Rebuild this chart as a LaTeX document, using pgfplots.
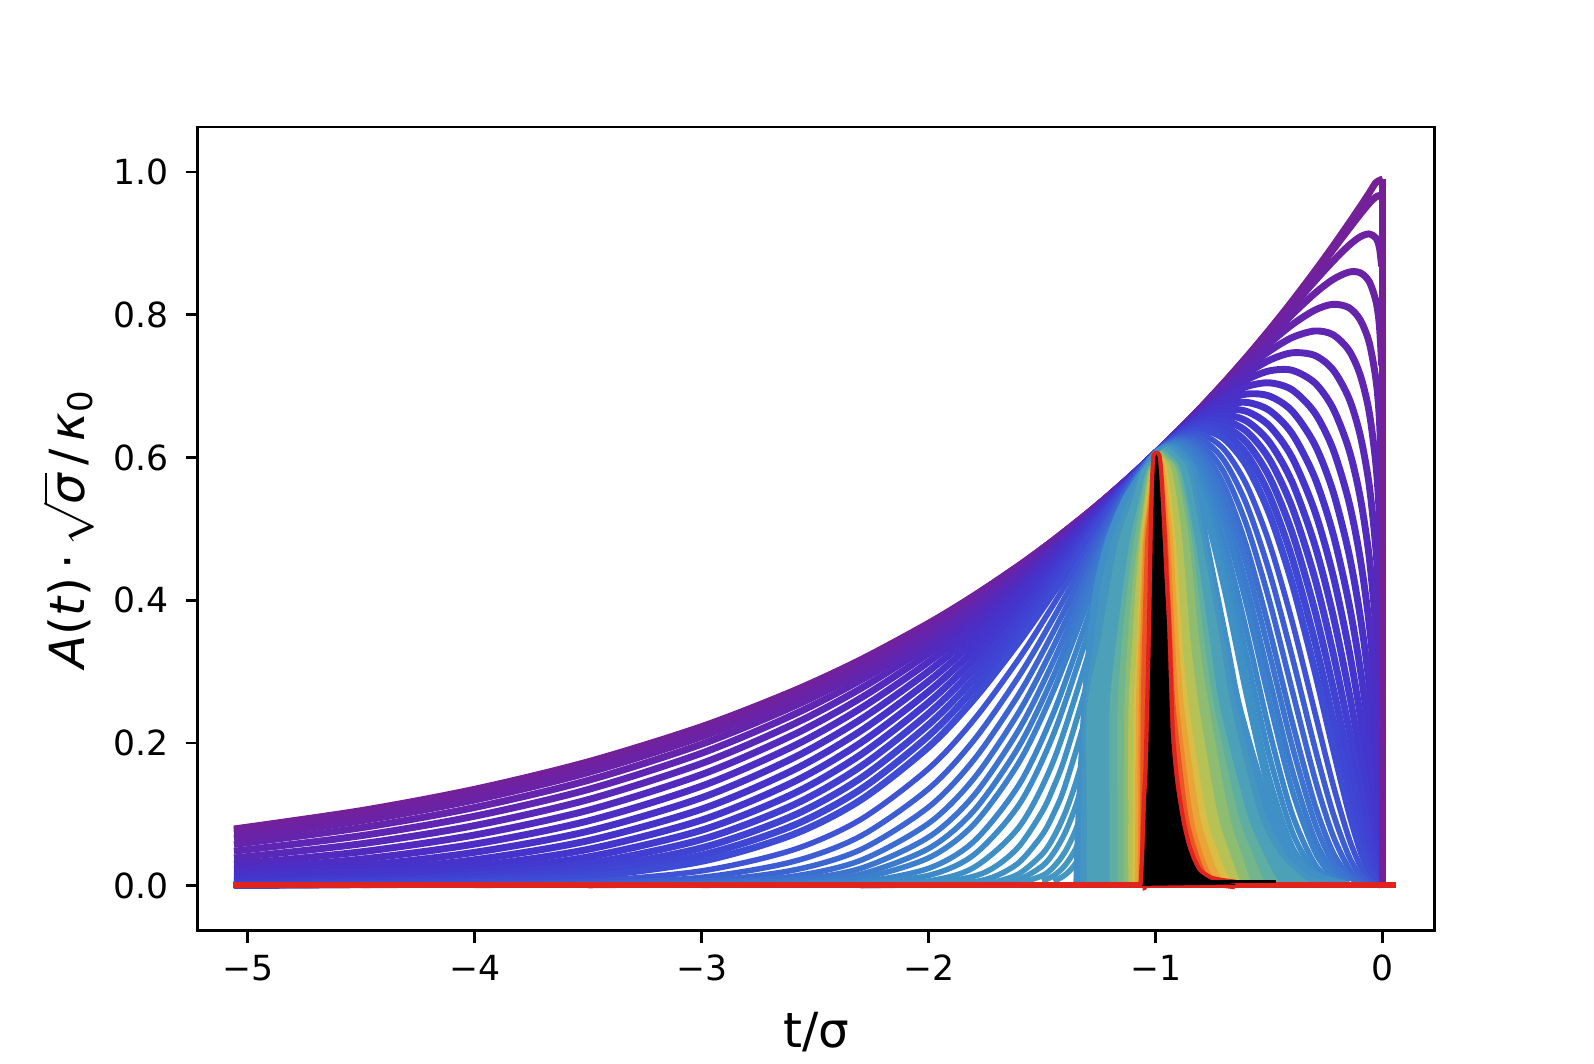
\documentclass[border=0pt]{standalone}
\usepackage{fontspec}
\setmainfont{DejaVu Sans}
\usepackage{pgfplots}
\pgfplotsset{compat=1.18}
\definecolor{n0}{RGB}{118,32,150}
\definecolor{n1}{RGB}{114,33,155}
\definecolor{n2}{RGB}{110,33,160}
\definecolor{n3}{RGB}{106,34,166}
\definecolor{n4}{RGB}{100,36,172}
\definecolor{n5}{RGB}{94,38,178}
\definecolor{n6}{RGB}{88,40,184}
\definecolor{n7}{RGB}{82,42,190}
\definecolor{n8}{RGB}{77,45,195}
\definecolor{n9}{RGB}{73,48,199}
\definecolor{n10}{RGB}{70,51,202}
\definecolor{n11}{RGB}{68,54,205}
\definecolor{n12}{RGB}{66,58,207}
\definecolor{n13}{RGB}{65,62,209}
\definecolor{n14}{RGB}{64,66,210}
\definecolor{n15}{RGB}{63,70,211}
\definecolor{n16}{RGB}{62,75,212}
\definecolor{n18}{RGB}{62,84,212}
\definecolor{n20}{RGB}{61,93,211}
\definecolor{n22}{RGB}{61,101,210}
\definecolor{n24}{RGB}{60,109,209}
\definecolor{n26}{RGB}{60,116,207}
\definecolor{n28}{RGB}{60,122,205}
\definecolor{n30}{RGB}{60,127,204}
\definecolor{n33}{RGB}{60,133,202}
\definecolor{n36}{RGB}{61,138,200}
\definecolor{n40}{RGB}{62,143,198}
\definecolor{nA}{RGB}{63,145,197}
\definecolor{nB}{RGB}{65,148,195}
\definecolor{nC}{RGB}{67,151,193}
\definecolor{cT0}{RGB}{64,143,199}
\definecolor{cT01}{RGB}{68,150,193}
\definecolor{cT1}{RGB}{76,160,184}
\definecolor{cT2}{RGB}{95,174,162}
\definecolor{cTG}{RGB}{115,182,140}
\definecolor{cG}{RGB}{142,188,113}
\definecolor{cYG}{RGB}{182,193,86}
\definecolor{cY}{RGB}{218,189,68}
\definecolor{cYO}{RGB}{234,165,55}
\definecolor{cO}{RGB}{240,135,45}
\definecolor{cOR}{RGB}{235,85,36}
\definecolor{rr}{RGB}{225,35,30}
\pgfplotsset{
  thk/.style={line width=2pt, line join=round, smooth, tension=0.5},
  thn/.style={line width=1.6pt, line join=round, smooth, tension=0.5},
  fl/.style={fill=#1, draw=#1, line width=0.4pt, smooth, tension=0.45},
}
\begin{document}
\begin{tikzpicture}
\useasboundingbox (-57.2pt,-38.3pt) rectangle (403.6pt,269.1pt);
\begin{axis}[
  at={(0,0)}, anchor=south west,
  scale only axis, width=357.5pt, height=232.4pt,
  xmin=-5.219, xmax=0.228, ymin=-0.063, ymax=1.063,
  xtick={-5,-4,-3,-2,-1,0}, xticklabels={−5,−4,−3,−2,−1,0},
  ytick={0,0.2,0.4,0.6,0.8,1.0}, yticklabels={0.0,0.2,0.4,0.6,0.8,1.0},
  tick align=outside, tick pos=left,
  major tick length=3.5pt,
  every tick/.style={black, line width=0.8pt},
  axis line style={line width=0.8pt},
  ticklabel style={font=\fontsize{10}{12}\selectfont},
  yticklabel style={xshift=-1.5pt},
  xlabel={t/σ},
  xlabel style={font=\fontsize{14}{17}\selectfont, at={(axis description cs:0.5,-0.1446)}, anchor=base, inner sep=0pt},
  ylabel={\itshape A\upshape(\itshape t\/\upshape)\,·\,$\sqrt{\mbox{\itshape σ}}$\,/\,\itshape κ\upshape\textsubscript{0}},
  ylabel style={font=\fontsize{14}{17}\selectfont, at={(axis description cs:-0.083,0.5)}, anchor=south, inner sep=0pt},
]
% ---- purple / blue family ----
\addplot[thk, color=n0] coordinates {(-5.06,0.0797) (-4.5,0.1054) (-4,0.1353) (-3.5,0.1738) (-3,0.2231) (-2.6,0.2725) (-2.3,0.3166) (-2,0.3679) (-1.8,0.4066) (-1.6,0.4493) (-1.45,0.4843) (-1.3,0.5220) (-1.2,0.5488) (-1.1,0.5769) (-1,0.6065) (-0.9,0.6376) (-0.8,0.6703) (-0.7,0.7047) (-0.6,0.7408) (-0.5,0.7788) (-0.4,0.8187) (-0.3,0.8607) (-0.22,0.8958) (-0.15,0.9277) (-0.1,0.9512) (-0.06,0.9704) (-0.03,0.9851) (0,0.99)};
\addplot[thk, color=n1] coordinates {(-5.06,0.0781) (-4.5,0.1037) (-4,0.1336) (-3.5,0.1720) (-3,0.2215) (-2.6,0.2711) (-2.3,0.3154) (-2,0.3670) (-1.8,0.4059) (-1.6,0.4488) (-1.45,0.4841) (-1.3,0.5218) (-1.2,0.5487) (-1.1,0.5769) (-1,0.6065) (-0.9,0.6376) (-0.8,0.6702) (-0.7,0.7044) (-0.6,0.7401) (-0.5,0.7776) (-0.4,0.8166) (-0.3,0.8572) (-0.22,0.8905) (-0.15,0.9199) (-0.1,0.9404) (-0.06,0.9558) (-0.03,0.9650) (-0.015,0.9668) (-0.005,0.9633)};
\addplot[thk, color=n2] coordinates {(-5.06,0.0736) (-4.5,0.0988) (-4,0.1284) (-3.5,0.1669) (-3,0.2167) (-2.6,0.2669) (-2.3,0.3119) (-2,0.3643) (-1.8,0.4038) (-1.6,0.4474) (-1.45,0.4831) (-1.3,0.5214) (-1.2,0.5485) (-1.1,0.5768) (-1,0.6065) (-0.9,0.6375) (-0.8,0.6698) (-0.7,0.7034) (-0.6,0.7381) (-0.5,0.7740) (-0.4,0.8104) (-0.3,0.8468) (-0.22,0.8747) (-0.15,0.8968) (-0.1,0.9090) (-0.06,0.9132) (-0.03,0.9074) (-0.015,0.8943) (-0.005,0.8677)};
\addplot[thk, color=n3] coordinates {(-5.06,0.0667) (-4.5,0.0911) (-4,0.1203) (-3.5,0.1587) (-3,0.2089) (-2.6,0.2600) (-2.3,0.3060) (-2,0.3597) (-1.8,0.4003) (-1.6,0.4451) (-1.45,0.4816) (-1.3,0.5206) (-1.2,0.5481) (-1.1,0.5767) (-1,0.6065) (-0.9,0.6373) (-0.8,0.6692) (-0.7,0.7018) (-0.6,0.7348) (-0.5,0.7679) (-0.4,0.8000) (-0.3,0.8297) (-0.22,0.8492) (-0.15,0.8596) (-0.1,0.8588) (-0.06,0.8465) (-0.03,0.8188) (-0.015,0.7851) (-0.005,0.7289)};
\addplot[thk, color=n4] coordinates {(-5.06,0.0581) (-4.5,0.0814) (-4,0.1098) (-3.5,0.1478) (-3,0.1985) (-2.6,0.2507) (-2.3,0.2980) (-2,0.3535) (-1.8,0.3955) (-1.6,0.4418) (-1.45,0.4794) (-1.3,0.5195) (-1.2,0.5475) (-1.1,0.5766) (-1,0.6065) (-0.9,0.6371) (-0.8,0.6683) (-0.7,0.6995) (-0.6,0.7302) (-0.5,0.7596) (-0.4,0.7859) (-0.3,0.8063) (-0.22,0.8146) (-0.15,0.8100) (-0.1,0.7931) (-0.06,0.7613) (-0.03,0.7091) (-0.015,0.6543) (-0.005,0.5711)};
\addplot[thk, color=n5] coordinates {(-5.06,0.0486) (-4.5,0.0703) (-4,0.0976) (-3.5,0.1350) (-3,0.1859) (-2.6,0.2392) (-2.3,0.2880) (-2,0.3457) (-1.8,0.3894) (-1.6,0.4377) (-1.45,0.4767) (-1.3,0.5181) (-1.2,0.5468) (-1.1,0.5764) (-1,0.6065) (-0.9,0.6369) (-0.8,0.6672) (-0.7,0.6966) (-0.6,0.7244) (-0.5,0.7489) (-0.4,0.7679) (-0.3,0.7772) (-0.22,0.7721) (-0.15,0.7505) (-0.1,0.7161) (-0.06,0.6640) (-0.03,0.5894) (-0.015,0.5176) (-0.005,0.4173)};
\addplot[thk, color=n6] coordinates {(-5.06,0.0391) (-4.5,0.0589) (-4,0.0845) (-3.5,0.1208) (-3,0.1715) (-2.6,0.2259) (-2.3,0.2763) (-2,0.3364) (-1.8,0.3822) (-1.6,0.4326) (-1.45,0.4734) (-1.3,0.5163) (-1.2,0.5460) (-1.1,0.5762) (-1,0.6065) (-0.9,0.6366) (-0.8,0.6658) (-0.7,0.6931) (-0.6,0.7173) (-0.5,0.7362) (-0.4,0.7466) (-0.3,0.7430) (-0.22,0.7232) (-0.15,0.6837) (-0.1,0.6319) (-0.06,0.5620) (-0.03,0.4702) (-0.015,0.3887) (-0.005,0.2844)};
\addplot[thk, color=n7] coordinates {(-5.06,0.0303) (-4.5,0.0477) (-4,0.0713) (-3.5,0.1059) (-3,0.1560) (-2.6,0.2110) (-2.3,0.2630) (-2,0.3257) (-1.8,0.3737) (-1.6,0.4267) (-1.45,0.4695) (-1.3,0.5143) (-1.2,0.5450) (-1.1,0.5759) (-1,0.6065) (-0.9,0.6363) (-0.8,0.6642) (-0.7,0.6890) (-0.6,0.7089) (-0.5,0.7213) (-0.4,0.7222) (-0.3,0.7047) (-0.22,0.6694) (-0.15,0.6123) (-0.1,0.5452) (-0.06,0.4614) (-0.03,0.3600) (-0.015,0.2771) (-0.005,0.1808)};
\addplot[thk, color=n8] coordinates {(-5.06,0.0225) (-4.5,0.0375) (-4,0.0586) (-3.5,0.0910) (-3,0.1398) (-2.6,0.1951) (-2.3,0.2486) (-2,0.3138) (-1.8,0.3642) (-1.6,0.4200) (-1.45,0.4650) (-1.3,0.5120) (-1.2,0.5438) (-1.1,0.5756) (-1,0.6065) (-0.9,0.6359) (-0.8,0.6623) (-0.7,0.6843) (-0.6,0.6994) (-0.5,0.7046) (-0.4,0.6949) (-0.3,0.6628) (-0.22,0.6123) (-0.15,0.5391) (-0.1,0.4597) (-0.06,0.3674) (-0.03,0.2645) (-0.015,0.1875) (-0.005,0.1072)};
\addplot[thk, color=n9] coordinates {(-5.06,0.0161) (-4.5,0.0285) (-4,0.0470) (-3.5,0.0766) (-3,0.1235) (-2.6,0.1786) (-2.3,0.2331) (-2,0.3008) (-1.8,0.3537) (-1.6,0.4126) (-1.45,0.4601) (-1.3,0.5093) (-1.2,0.5425) (-1.1,0.5752) (-1,0.6065) (-0.9,0.6354) (-0.8,0.6602) (-0.7,0.6790) (-0.6,0.6889) (-0.5,0.6861) (-0.4,0.6653) (-0.3,0.6184) (-0.22,0.5534) (-0.15,0.4667) (-0.1,0.3790) (-0.06,0.2839) (-0.03,0.1865) (-0.015,0.1204) (-0.005,0.0593)};
\addplot[thk, color=n10] coordinates {(-5.06,0.0110) (-4.5,0.0209) (-4,0.0366) (-3.5,0.0633) (-3,0.1075) (-2.6,0.1617) (-2.3,0.2169) (-2,0.2869) (-1.8,0.3424) (-1.6,0.4044) (-1.45,0.4545) (-1.3,0.5064) (-1.2,0.5410) (-1.1,0.5748) (-1,0.6065) (-0.9,0.6349) (-0.8,0.6579) (-0.7,0.6731) (-0.6,0.6772) (-0.5,0.6660) (-0.4,0.6337) (-0.3,0.5722) (-0.22,0.4943) (-0.15,0.3973) (-0.1,0.3054) (-0.06,0.2128) (-0.03,0.1262) (-0.015,0.0734) (-0.005,0.0306)};
\addplot[thk, color=n11] coordinates {(-5.06,0.0073) (-4.5,0.0149) (-4,0.0278) (-3.5,0.0512) (-3,0.0922) (-2.6,0.1449) (-2.3,0.2003) (-2,0.2723) (-1.8,0.3302) (-1.6,0.3956) (-1.45,0.4485) (-1.3,0.5031) (-1.2,0.5394) (-1.1,0.5743) (-1,0.6065) (-0.9,0.6343) (-0.8,0.6553) (-0.7,0.6667) (-0.6,0.6646) (-0.5,0.6445) (-0.4,0.6005) (-0.3,0.5252) (-0.22,0.4363) (-0.15,0.3324) (-0.1,0.2406) (-0.06,0.1547) (-0.03,0.0820) (-0.015,0.0425) (-0.005,0.0147)};
\addplot[thk, color=n12] coordinates {(-5.06,0.0046) (-4.5,0.0103) (-4,0.0206) (-3.5,0.0406) (-3,0.0780) (-2.6,0.1285) (-2.3,0.1837) (-2,0.2572) (-1.8,0.3174) (-1.6,0.3861) (-1.45,0.4420) (-1.3,0.4996) (-1.2,0.5376) (-1.1,0.5738) (-1,0.6065) (-0.9,0.6336) (-0.8,0.6525) (-0.7,0.6596) (-0.6,0.6510) (-0.5,0.6217) (-0.4,0.5661) (-0.3,0.4782) (-0.22,0.3805) (-0.15,0.2735) (-0.1,0.1852) (-0.06,0.1091) (-0.03,0.0511) (-0.015,0.0234) (-0.005,0.0066)};
\addplot[thk, color=n13] coordinates {(-5.06,0.0028) (-4.5,0.0069) (-4,0.0149) (-3.5,0.0315) (-3,0.0650) (-2.6,0.1128) (-2.3,0.1671) (-2,0.2417) (-1.8,0.3041) (-1.6,0.3761) (-1.45,0.4351) (-1.3,0.4958) (-1.2,0.5357) (-1.1,0.5733) (-1,0.6065) (-0.9,0.6330) (-0.8,0.6494) (-0.7,0.6521) (-0.6,0.6365) (-0.5,0.5979) (-0.4,0.5310) (-0.3,0.4318) (-0.22,0.3279) (-0.15,0.2213) (-0.1,0.1395) (-0.06,0.0747) (-0.03,0.0306) (-0.015,0.0122) (-0.005,0.0028)};
\addplot[thk, color=n14] coordinates {(-5.06,0.0017) (-4.5,0.0044) (-4,0.0104) (-3.5,0.0240) (-3,0.0533) (-2.6,0.0980) (-2.3,0.1508) (-2,0.2260) (-1.8,0.2903) (-1.6,0.3655) (-1.45,0.4276) (-1.3,0.4918) (-1.2,0.5336) (-1.1,0.5727) (-1,0.6065) (-0.9,0.6322) (-0.8,0.6461) (-0.7,0.6440) (-0.6,0.6213) (-0.5,0.5731) (-0.4,0.4955) (-0.3,0.3867) (-0.22,0.2793) (-0.15,0.1760) (-0.1,0.1026) (-0.06,0.0496) (-0.03,0.0176) (-0.015,0.0060) (-0.005,0.0011)};
\addplot[thk, color=n15] coordinates {(-5.06,0.0009) (-4.5,0.0028) (-4,0.0071) (-3.5,0.0179) (-3,0.0432) (-2.6,0.0842) (-2.3,0.1352) (-2,0.2103) (-1.8,0.2762) (-1.6,0.3546) (-1.45,0.4198) (-1.3,0.4875) (-1.2,0.5314) (-1.1,0.5720) (-1,0.6065) (-0.9,0.6314) (-0.8,0.6426) (-0.7,0.6355) (-0.6,0.6053) (-0.5,0.5477) (-0.4,0.4601) (-0.3,0.3435) (-0.22,0.2350) (-0.15,0.1376) (-0.1,0.0738) (-0.06,0.0319) (-0.03,0.0097) (-0.015,0.0029) (-0.005,0.0004)};
\addplot[thk, color=n16] coordinates {(-5.06,0.0005) (-4.5,0.0017) (-4,0.0048) (-3.5,0.0131) (-3,0.0344) (-2.6,0.0716) (-2.3,0.1202) (-2,0.1947) (-1.8,0.2618) (-1.6,0.3432) (-1.45,0.4116) (-1.3,0.4829) (-1.2,0.5290) (-1.1,0.5714) (-1,0.6065) (-0.9,0.6306) (-0.8,0.6389) (-0.7,0.6266) (-0.6,0.5887) (-0.5,0.5218) (-0.4,0.4249) (-0.3,0.3027) (-0.22,0.1955) (-0.15,0.1058) (-0.1,0.0519) (-0.06,0.0200) (-0.03,0.0051) (-0.015,0.0012)};
\addplot[thn, color=n18] coordinates {(-4.5,0.0006) (-4,0.0020) (-3.5,0.0066) (-3,0.0210) (-2.6,0.0502) (-2.3,0.0929) (-2,0.1644) (-1.8,0.2330) (-1.6,0.3194) (-1.45,0.3942) (-1.3,0.4730) (-1.2,0.5239) (-1.1,0.5699) (-1,0.6065) (-0.9,0.6291) (-0.8,0.6326) (-0.7,0.6116) (-0.6,0.5615) (-0.5,0.4805) (-0.4,0.3713) (-0.3,0.2442) (-0.22,0.1430) (-0.15,0.0677) (-0.1,0.0285) (-0.06,0.0090) (-0.03,0.0018)};
\addplot[thn, color=n20] coordinates {(-4,0.0007) (-3.5,0.0031) (-3,0.0120) (-2.6,0.0338) (-2.3,0.0697) (-2,0.1361) (-1.8,0.2044) (-1.6,0.2949) (-1.45,0.3757) (-1.3,0.4622) (-1.2,0.5182) (-1.1,0.5682) (-1,0.6065) (-0.9,0.6277) (-0.8,0.6261) (-0.7,0.5962) (-0.6,0.5342) (-0.5,0.4405) (-0.4,0.3221) (-0.3,0.1946) (-0.22,0.1027) (-0.15,0.0423) (-0.1,0.0152) (-0.06,0.0039)};
\addplot[thn, color=n22] coordinates {(-3.5,0.0013) (-3,0.0065) (-2.6,0.0218) (-2.3,0.0507) (-2,0.1105) (-1.8,0.1770) (-1.6,0.2699) (-1.45,0.3562) (-1.3,0.4505) (-1.2,0.5120) (-1.1,0.5664) (-1,0.6065) (-0.9,0.6260) (-0.8,0.6189) (-0.7,0.5795) (-0.6,0.5054) (-0.5,0.4000) (-0.4,0.2750) (-0.3,0.1513) (-0.22,0.0712) (-0.15,0.0250) (-0.1,0.0075) (-0.06,0.0015)};
\addplot[thn, color=n24] coordinates {(-3.5,0.0005) (-3,0.0033) (-2.6,0.0134) (-2.3,0.0357) (-2,0.0877) (-1.8,0.1509) (-1.6,0.2449) (-1.45,0.3358) (-1.3,0.4380) (-1.2,0.5053) (-1.1,0.5645) (-1,0.6065) (-0.9,0.6241) (-0.8,0.6110) (-0.7,0.5617) (-0.6,0.4755) (-0.5,0.3597) (-0.4,0.2311) (-0.3,0.1147) (-0.22,0.0475) (-0.15,0.0141) (-0.1,0.0036)};
\addplot[thn, color=n26] coordinates {(-3,0.0016) (-2.6,0.0080) (-2.3,0.0245) (-2,0.0684) (-1.8,0.1271) (-1.6,0.2204) (-1.45,0.3152) (-1.3,0.4249) (-1.2,0.4981) (-1.1,0.5623) (-1,0.6065) (-0.9,0.6224) (-0.8,0.6040) (-0.7,0.5461) (-0.6,0.4499) (-0.5,0.3265) (-0.4,0.1973) (-0.3,0.0891) (-0.22,0.0329) (-0.15,0.0083)};
\addplot[thn, color=n28] coordinates {(-3,0.0007) (-2.6,0.0045) (-2.3,0.0163) (-2,0.0524) (-1.8,0.1057) (-1.6,0.1968) (-1.45,0.2944) (-1.3,0.4111) (-1.2,0.4905) (-1.1,0.5600) (-1,0.6065) (-0.9,0.6204) (-0.8,0.5957) (-0.7,0.5278) (-0.6,0.4210) (-0.5,0.2908) (-0.4,0.1631) (-0.3,0.0658) (-0.22,0.0212) (-0.15,0.0045)};
\addplot[thn, color=n30] coordinates {(-2.6,0.0025) (-2.3,0.0105) (-2,0.0393) (-1.8,0.0866) (-1.6,0.1742) (-1.45,0.2735) (-1.3,0.3969) (-1.2,0.4824) (-1.1,0.5576) (-1,0.6065) (-0.9,0.6184) (-0.8,0.5875) (-0.7,0.5102) (-0.6,0.3939) (-0.5,0.2590) (-0.4,0.1349) (-0.3,0.0487) (-0.22,0.0136) (-0.15,0.0024)};
\addplot[thn, color=n33] coordinates {(-2.6,0.0009) (-2.3,0.0051) (-2,0.0246) (-1.8,0.0626) (-1.6,0.1428) (-1.45,0.2426) (-1.3,0.3747) (-1.2,0.4695) (-1.1,0.5536) (-1,0.6065) (-0.9,0.6155) (-0.8,0.5754) (-0.7,0.4848) (-0.6,0.3565) (-0.5,0.2177) (-0.4,0.1015) (-0.3,0.0309) (-0.22,0.0070)};
\addplot[thn, color=n36] coordinates {(-2.3,0.0023) (-2,0.0147) (-1.8,0.0438) (-1.6,0.1147) (-1.45,0.2126) (-1.3,0.3518) (-1.2,0.4557) (-1.1,0.5493) (-1,0.6065) (-0.9,0.6125) (-0.8,0.5635) (-0.7,0.4607) (-0.6,0.3226) (-0.5,0.1829) (-0.4,0.0764) (-0.3,0.0196) (-0.22,0.0040)};
\addplot[thn, color=n40] coordinates {(-2.3,0.0007) (-2,0.0069) (-1.8,0.0260) (-1.6,0.0833) (-1.45,0.1753) (-1.3,0.3207) (-1.2,0.4363) (-1.1,0.5429) (-1,0.6065) (-0.9,0.6092) (-0.8,0.5506) (-0.7,0.4353) (-0.6,0.2888) (-0.5,0.1508) (-0.4,0.0557) (-0.3,0.0119)};
% steeper members that run into the dense band
\addplot[thn, color=nA] coordinates {(-2.3,0.0002) (-2,0.0027) (-1.8,0.0136) (-1.7,0.0284) (-1.6,0.0561) (-1.5,0.1041) (-1.45,0.1382) (-1.4,0.1798) (-1.3,0.2861) (-1.2,0.4134) (-1.1,0.5353) (-1,0.6065) (-0.9,0.607) (-0.8,0.5418) (-0.7,0.4184) (-0.6,0.2672) (-0.5,0.1318) (-0.4,0.0446) (-0.3,0.0083)};
\addplot[thn, color=nA] coordinates {(-2,0.0008) (-1.8,0.0058) (-1.7,0.0144) (-1.6,0.0334) (-1.5,0.0714) (-1.45,0.1010) (-1.4,0.1395) (-1.3,0.2461) (-1.2,0.3852) (-1.1,0.5252) (-1,0.6065)};
\addplot[thn, color=nB] coordinates {(-1.8,0.0020) (-1.7,0.0062) (-1.6,0.0174) (-1.5,0.0445) (-1.45,0.0682) (-1.4,0.1015) (-1.35,0.1463) (-1.3,0.2039) (-1.2,0.3526) (-1.1,0.5132) (-1,0.6065)};
\addplot[thn, color=nB] coordinates {(-1.7,0.0027) (-1.6,0.0091) (-1.5,0.0277) (-1.45,0.0461) (-1.4,0.0739) (-1.35,0.1140) (-1.3,0.1690) (-1.25,0.2388) (-1.2,0.3227) (-1.1,0.5011) (-1,0.6065)};
\addplot[thn, color=nC] coordinates {(-1.6,0.0037) (-1.5,0.0143) (-1.45,0.0266) (-1.4,0.0474) (-1.35,0.0804) (-1.3,0.1299) (-1.25,0.1979) (-1.2,0.2851) (-1.15,0.3860) (-1.1,0.4850) (-1.05,0.5657) (-1,0.6065)};
\addplot[thn, color=nC] coordinates {(-1.5,0.0067) (-1.45,0.0142) (-1.4,0.0285) (-1.35,0.0539) (-1.3,0.0961) (-1.25,0.1595) (-1.2,0.2474) (-1.15,0.3556) (-1.1,0.4672) (-1.05,0.5602) (-1,0.6065)};
\addplot[thn, color=nC] coordinates {(-1.45,0.0065) (-1.4,0.0151) (-1.35,0.0327) (-1.3,0.0660) (-1.25,0.1219) (-1.2,0.2073) (-1.15,0.3211) (-1.1,0.4457) (-1.05,0.5535) (-1,0.6065)};
% vertical drop at t = 0
\addplot[line width=2pt, color=n0] coordinates {(0,0) (0,0.99)};
% ---- dense narrow family (filled bands) ----
\addplot[fl=cT0] coordinates {(-1.36,0) (-1.35,0.1) (-1.325,0.25) (-1.30,0.345) (-1.27,0.42) (-1.22,0.485) (-1.15,0.54) (-1.07,0.58) (-1.0,0.604) (-0.93,0.618) (-0.86,0.6) (-0.82,0.58) (-0.768,0.485) (-0.68,0.345) (-0.62,0.25) (-0.5,0.12) (-0.4,0.05) (-0.3,0.02) (-0.15,0.005) (-0.08,0)};
\addplot[fl=cT01] coordinates {(-1.33,0) (-1.325,0.1) (-1.312,0.25) (-1.27,0.345) (-1.24,0.42) (-1.19,0.485) (-1.12,0.54) (-1.065,0.58) (-1.0,0.604) (-0.94,0.616) (-0.88,0.6) (-0.84,0.58) (-0.784,0.485) (-0.70,0.345) (-0.645,0.25) (-0.53,0.11) (-0.43,0.045) (-0.33,0.015) (-0.22,0.004) (-0.19,0)};
\addplot[fl=cT1] coordinates {(-1.30,0) (-1.30,0.1) (-1.30,0.25) (-1.24,0.345) (-1.2,0.42) (-1.16,0.485) (-1.1,0.54) (-1.06,0.58) (-1,0.603) (-0.95,0.614) (-0.9,0.6) (-0.86,0.58) (-0.8,0.485) (-0.72,0.345) (-0.67,0.25) (-0.55,0.1) (-0.45,0.04) (-0.35,0.01) (-0.3,0)};
\addplot[fl=cT2] coordinates {(-1.2,0) (-1.2,0.1) (-1.2,0.25) (-1.17,0.345) (-1.14,0.42) (-1.11,0.485) (-1.07,0.54) (-1.04,0.58) (-1,0.6) (-0.97,0.61) (-0.93,0.6) (-0.89,0.58) (-0.83,0.485) (-0.765,0.345) (-0.72,0.25) (-0.6,0.1) (-0.52,0.04) (-0.47,0.01) (-0.44,0)};
\addplot[fl=cTG] coordinates {(-1.165,0) (-1.165,0.1) (-1.165,0.25) (-1.145,0.345) (-1.12,0.42) (-1.092,0.485) (-1.06,0.54) (-1.035,0.58) (-1,0.6) (-0.975,0.608) (-0.94,0.598) (-0.9,0.58) (-0.843,0.485) (-0.79,0.345) (-0.745,0.25) (-0.64,0.1) (-0.57,0.04) (-0.53,0.01) (-0.505,0)};
\addplot[fl=cG] coordinates {(-1.135,0) (-1.135,0.1) (-1.135,0.25) (-1.12,0.345) (-1.1,0.42) (-1.075,0.485) (-1.05,0.54) (-1.03,0.58) (-1,0.6) (-0.98,0.607) (-0.95,0.598) (-0.91,0.58) (-0.856,0.485) (-0.812,0.345) (-0.768,0.25) (-0.68,0.1) (-0.62,0.04) (-0.59,0.01) (-0.57,0)};
\addplot[fl=cYG] coordinates {(-1.118,0) (-1.118,0.1) (-1.117,0.25) (-1.10,0.345) (-1.085,0.42) (-1.068,0.485) (-1.045,0.54) (-1.025,0.58) (-0.995,0.603) (-0.975,0.602) (-0.93,0.58) (-0.886,0.485) (-0.85,0.345) (-0.812,0.25) (-0.73,0.1) (-0.67,0.04) (-0.635,0.01) (-0.615,0)};
\addplot[fl=cY] coordinates {(-1.10,0) (-1.098,0.1) (-1.095,0.25) (-1.08,0.345) (-1.07,0.42) (-1.06,0.485) (-1.04,0.54) (-1.02,0.58) (-0.99,0.603) (-0.97,0.598) (-0.95,0.58) (-0.915,0.485) (-0.886,0.345) (-0.856,0.25) (-0.78,0.1) (-0.72,0.04) (-0.68,0.01) (-0.66,0)};
\addplot[fl=cYO] coordinates {(-1.088,0) (-1.087,0.1) (-1.084,0.25) (-1.073,0.345) (-1.064,0.42) (-1.055,0.485) (-1.035,0.54) (-1.018,0.58) (-0.993,0.603) (-0.975,0.595) (-0.96,0.58) (-0.928,0.485) (-0.902,0.345) (-0.878,0.25) (-0.81,0.1) (-0.755,0.04) (-0.715,0.01) (-0.695,0)};
\addplot[fl=cO] coordinates {(-1.075,0) (-1.074,0.1) (-1.072,0.25) (-1.065,0.345) (-1.058,0.42) (-1.05,0.485) (-1.03,0.54) (-1.015,0.58) (-0.995,0.603) (-0.982,0.595) (-0.97,0.58) (-0.94,0.485) (-0.918,0.345) (-0.90,0.25) (-0.84,0.1) (-0.79,0.04) (-0.75,0.01) (-0.73,0)};
\addplot[fl=cOR] coordinates {(-1.066,0) (-1.065,0.1) (-1.063,0.25) (-1.057,0.345) (-1.05,0.42) (-1.043,0.485) (-1.025,0.54) (-1.012,0.58) (-0.997,0.603) (-0.987,0.595) (-0.975,0.58) (-0.95,0.485) (-0.93,0.345) (-0.915,0.25) (-0.86,0.1) (-0.81,0.04) (-0.77,0.01) (-0.75,0)};
% ---- red base line ----
\addplot[line width=1.9pt, color=rr] coordinates {(-5.063,0.0015) (0.058,0.0015)};
% ---- narrowest pulse: red outline and black fill ----
\addplot[line width=2.8pt, color=rr, line join=round, smooth, tension=0.4] coordinates {(-1.058,0) (-1.054,0.005) (-1.046,0.06) (-1.04,0.12) (-1.032,0.172) (-1.018,0.359) (-1.010,0.499) (-1.004,0.57) (-0.998,0.602) (-0.992,0.595) (-0.984,0.56) (-0.974,0.499) (-0.962,0.42) (-0.952,0.359) (-0.937,0.219) (-0.922,0.16) (-0.908,0.126) (-0.886,0.085) (-0.864,0.056) (-0.84,0.035) (-0.812,0.019) (-0.76,0.008) (-0.70,0.004) (-0.65,0.002)};
\addplot[fill=black, draw=black, line width=0.3pt, smooth, tension=0.4] coordinates {(-1.058,0) (-1.054,0.005) (-1.046,0.06) (-1.04,0.12) (-1.032,0.172) (-1.018,0.359) (-1.010,0.499) (-1.004,0.57) (-0.998,0.602) (-0.992,0.595) (-0.984,0.56) (-0.974,0.499) (-0.962,0.42) (-0.952,0.359) (-0.937,0.219) (-0.922,0.16) (-0.908,0.126) (-0.886,0.085) (-0.864,0.056) (-0.84,0.035) (-0.812,0.019) (-0.76,0.008) (-0.70,0.004) (-0.65,0.002)};
\addplot[line width=0.8pt, color=black] coordinates {(-0.80,0.006) (-0.47,0.006)};
\end{axis}
\end{tikzpicture}
\end{document}
